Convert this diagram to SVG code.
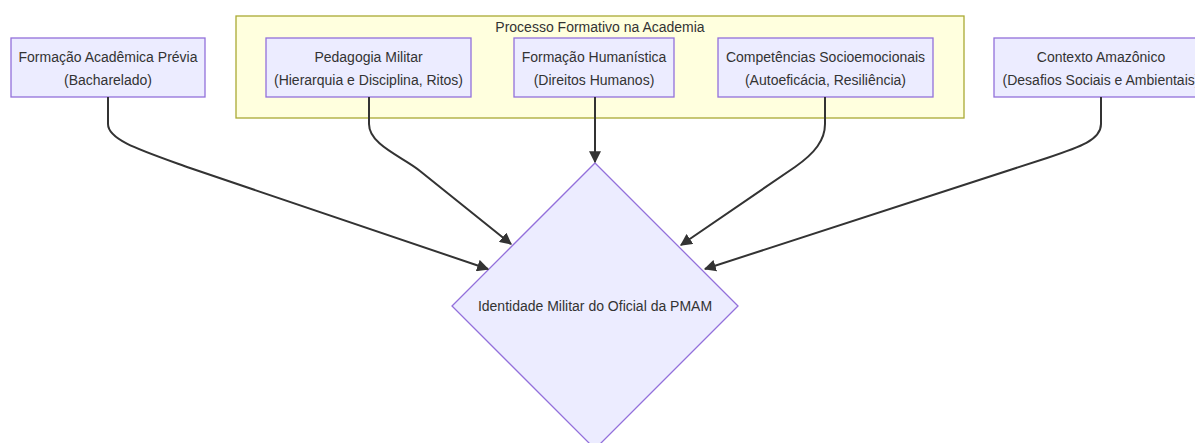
<svg xmlns="http://www.w3.org/2000/svg" width="1195" height="443" viewBox="0 0 1195 443">
<style>
.node{fill:#ECECFF;stroke:#9370DB;stroke-width:1.3;}
.cluster{fill:#FFFFDE;stroke:#AAAA33;stroke-width:1.3;}
.t{font-family:"Liberation Sans",Arial,sans-serif;font-size:14px;fill:#333;text-anchor:middle;}
.edge{fill:none;stroke:#333;stroke-width:2;}
</style>
<defs>
<marker id="arr" viewBox="0 0 10 10" refX="9" refY="5" markerWidth="12" markerHeight="12" markerUnits="userSpaceOnUse" orient="auto">
<path d="M0,0 L10,5 L0,10 z" fill="#333"/>
</marker>
</defs>
<rect width="1195" height="443" fill="#fff"/>
<g id="cluster-academia">
<rect class="cluster" x="236" y="16" width="728" height="102"/>
<text class="t" x="600" y="32">Processo Formativo na Academia</text>
</g>
<g id="n-formacao-academica">
<rect class="node" x="11" y="38" width="194" height="59"/>
<text class="t" x="108" y="62">Formação Acadêmica Prévia</text>
<text class="t" x="108" y="85">(Bacharelado)</text>
</g>
<g id="n-pedagogia">
<rect class="node" x="266" y="38" width="205" height="59"/>
<text class="t" x="368.5" y="62">Pedagogia Militar</text>
<text class="t" x="368.5" y="85">(Hierarquia e Disciplina, Ritos)</text>
</g>
<g id="n-humanistica">
<rect class="node" x="514" y="38" width="160" height="59"/>
<text class="t" x="594" y="62">Formação Humanística</text>
<text class="t" x="594" y="85">(Direitos Humanos)</text>
</g>
<g id="n-socioemocionais">
<rect class="node" x="718" y="38" width="215" height="59"/>
<text class="t" x="825.5" y="62">Competências Socioemocionais</text>
<text class="t" x="825.5" y="85">(Autoeficácia, Resiliência)</text>
</g>
<g id="n-amazonico">
<rect class="node" x="994" y="38" width="214" height="59"/>
<text class="t" x="1101" y="62">Contexto Amazônico</text>
<text class="t" x="1101" y="85">(Desafios Sociais e Ambientais)</text>
</g>
<g id="n-identidade">
<polygon class="node" points="595,163 738,306 595,449 452,306"/>
<text class="t" x="595" y="311">Identidade Militar do Oficial da PMAM</text>
</g>
<g id="connectors">
<path class="edge" marker-end="url(#arr)" d="M108,97 L108,124 C108,140 140,150 190,168 L488,269"/>
<path class="edge" marker-end="url(#arr)" d="M369,97 L369,124 C369,145 403,157 420,171 L511,244"/>
<path class="edge" marker-end="url(#arr)" d="M595,97 L595,162"/>
<path class="edge" marker-end="url(#arr)" d="M825,97 L825,124 C825,140 815,153 795,167 L681,245"/>
<path class="edge" marker-end="url(#arr)" d="M1101,97 L1101,124 C1101,140 1080,147 1047,158 L705,269"/>
</g>
</svg>
